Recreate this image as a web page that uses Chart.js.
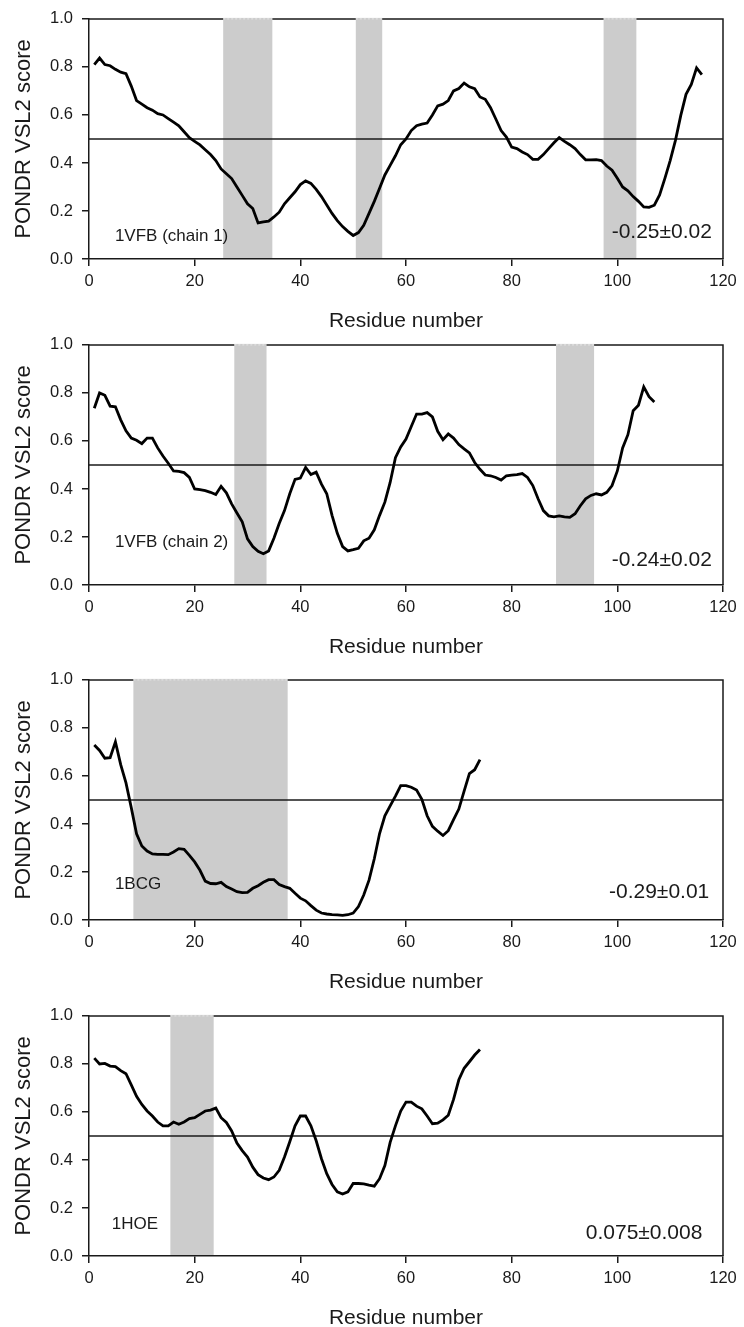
<!DOCTYPE html>
<html><head><meta charset="utf-8">
<script src="https://cdn.jsdelivr.net/npm/chart.js@4.4.1/dist/chart.umd.min.js"></script>
<style>
html,body{margin:0;padding:0;background:#fff;overflow:hidden;width:744px;height:1327px;position:relative;}
canvas{position:absolute;left:0;}
</style></head><body>
<canvas id="c0" width="744" height="334" style="top:0px"></canvas>
<canvas id="c1" width="744" height="334" style="top:326px"></canvas>
<canvas id="c2" width="744" height="334" style="top:661px"></canvas>
<canvas id="c3" width="744" height="334" style="top:997px"></canvas>
<script>
// ---- data ----
const panelNames = ["1VFB (chain 1)", "1VFB (chain 2)", "1BCG", "1HOE"];
const panelScores = ["-0.25\u00B10.02", "-0.24\u00B10.02", "-0.29\u00B10.01", "0.075\u00B10.008"];
const xTickValues = [0, 20, 40, 60, 80, 100, 120];
const yTickValues = [0.0, 0.2, 0.4, 0.6, 0.8, 1.0];
const threshold = 0.5;

// PONDR VSL2 scores, residue 1..N
const vfb1 = [0.81,0.837,0.81,0.805,0.79,0.778,0.772,0.72,0.66,0.645,
  0.63,0.62,0.605,0.60,0.585,0.57,0.555,0.53,0.505,0.49,
  0.475,0.455,0.435,0.41,0.375,0.355,0.335,0.30,0.265,0.23,
  0.21,0.15,0.155,0.158,0.175,0.195,0.23,0.255,0.28,0.31,
  0.325,0.315,0.29,0.26,0.225,0.19,0.16,0.135,0.115,0.098,
  0.11,0.14,0.19,0.24,0.295,0.35,0.39,0.43,0.476,0.50,
  0.535,0.555,0.562,0.566,0.60,0.638,0.645,0.66,0.70,0.71,
  0.733,0.717,0.709,0.675,0.665,0.63,0.583,0.535,0.508,0.466,
  0.46,0.446,0.435,0.415,0.415,0.435,0.46,0.484,0.506,0.49,
  0.476,0.46,0.435,0.413,0.413,0.414,0.41,0.387,0.37,0.336,
  0.30,0.284,0.26,0.24,0.217,0.215,0.224,0.267,0.336,0.41,
  0.494,0.597,0.686,0.727,0.796,0.768];
const vfb2 = [0.736,0.80,0.79,0.745,0.742,0.688,0.642,0.612,0.603,0.589,
  0.612,0.612,0.571,0.537,0.507,0.475,0.473,0.468,0.448,0.40,
  0.397,0.393,0.386,0.377,0.411,0.384,0.338,0.30,0.263,0.192,
  0.16,0.14,0.13,0.142,0.195,0.256,0.31,0.38,0.44,0.445,
  0.49,0.46,0.47,0.42,0.38,0.29,0.215,0.16,0.142,0.147,
  0.153,0.184,0.195,0.23,0.29,0.345,0.427,0.53,0.575,0.608,
  0.66,0.712,0.712,0.718,0.70,0.64,0.605,0.629,0.612,0.585,
  0.567,0.55,0.51,0.482,0.458,0.455,0.448,0.437,0.455,0.458,
  0.46,0.464,0.448,0.414,0.359,0.31,0.288,0.284,0.288,0.284,
  0.282,0.297,0.33,0.359,0.373,0.38,0.375,0.386,0.414,0.475,
  0.571,0.626,0.726,0.749,0.825,0.784,0.762];
const bcg = [0.729,0.706,0.674,0.676,0.742,0.647,0.571,0.468,0.359,0.308,
  0.287,0.275,0.273,0.273,0.272,0.283,0.297,0.294,0.269,0.242,
  0.207,0.162,0.152,0.151,0.157,0.139,0.129,0.118,0.114,0.115,
  0.132,0.143,0.157,0.168,0.168,0.148,0.139,0.132,0.111,0.091,
  0.080,0.06,0.041,0.029,0.025,0.022,0.021,0.019,0.022,0.029,
  0.056,0.104,0.166,0.255,0.36,0.434,0.475,0.516,0.56,0.56,
  0.553,0.541,0.503,0.434,0.39,0.37,0.352,0.372,0.418,0.462,
  0.537,0.61,0.626,0.668];
const hoe = [0.824,0.80,0.802,0.791,0.789,0.772,0.759,0.713,0.665,0.631,
  0.604,0.583,0.558,0.542,0.542,0.558,0.549,0.558,0.572,0.576,
  0.59,0.604,0.608,0.616,0.576,0.556,0.521,0.47,0.439,0.412,
  0.37,0.339,0.325,0.318,0.329,0.357,0.412,0.476,0.542,0.583,
  0.583,0.542,0.48,0.405,0.343,0.298,0.267,0.258,0.267,0.302,
  0.302,0.30,0.295,0.291,0.322,0.377,0.473,0.542,0.604,0.641,
  0.641,0.624,0.613,0.583,0.551,0.553,0.567,0.586,0.652,0.734,
  0.782,0.809,0.837,0.86];

// shaded residue ranges
const shades1 = [[25.4, 34.7], [50.5, 55.5], [97.4, 103.6]];
const shades2 = [[27.5, 33.6], [88.4, 95.6]];
const shades3 = [[8.4, 37.6]];
const shades4 = [[15.4, 23.6]];

const panelSeries = [vfb1, vfb2, bcg, hoe];
const panelShades = [shades1, shades2, shades3, shades4];

// ---- layout / style (not data) ----
const namePos = [[4.9, 0.095], [4.9, 0.177], [4.9, 0.148], [4.3, 0.132]];
const scorePos = [[117.9, 0.111], [117.9, 0.103], [117.4, 0.115], [116.1, 0.095]];
const FONT = "'Liberation Sans', Arial, sans-serif";
const INK = '#1a1a1a';

const decor = {
  id: 'decor',
  beforeDatasetsDraw(chart, args, o) {
    const {ctx, chartArea: a, scales: {x}} = chart;
    ctx.save();
    ctx.strokeStyle = INK; ctx.lineWidth = 1.5;
    ctx.beginPath();
    ctx.moveTo(a.left, a.top); ctx.lineTo(a.right, a.top); ctx.lineTo(a.right, a.bottom);
    ctx.stroke();
    ctx.fillStyle = '#cccccc';
    o.shades.forEach(([s, e]) => {
      const x0 = x.getPixelForValue(s), x1 = x.getPixelForValue(e);
      ctx.fillRect(x0, a.top - 1, x1 - x0, a.bottom - a.top);
    });
    ctx.strokeStyle = '#e6e6e6'; ctx.lineWidth = 1; ctx.setLineDash([2, 2]);
    o.shades.forEach(([s, e]) => {
      const x0 = x.getPixelForValue(s), x1 = x.getPixelForValue(e);
      ctx.beginPath(); ctx.moveTo(x0, a.top); ctx.lineTo(x1, a.top); ctx.stroke();
    });
    ctx.restore();
  },
  afterDatasetsDraw(chart, args, o) {
    const {ctx, scales: {x, y}} = chart;
    ctx.save();
    ctx.fillStyle = INK;
    ctx.textBaseline = 'middle';
    ctx.font = '17px ' + FONT;
    ctx.textAlign = 'left';
    ctx.fillText(o.name, x.getPixelForValue(o.namePos[0]), y.getPixelForValue(o.namePos[1]));
    ctx.font = '21px ' + FONT;
    ctx.textAlign = 'right';
    ctx.fillText(o.score, x.getPixelForValue(o.scorePos[0]), y.getPixelForValue(o.scorePos[1]));
    ctx.restore();
  }
};

panelSeries.forEach((series, i) => {
  const pts = series.map((v, k) => ({x: k + 1, y: v}));
  new Chart(document.getElementById('c' + i), {
    type: 'line',
    data: {
      datasets: [
        {data: pts, borderColor: '#000', borderWidth: 2.8, pointRadius: 0, tension: 0, fill: false},
        {data: [{x: xTickValues[0], y: threshold}, {x: xTickValues[xTickValues.length - 1], y: threshold}],
         borderColor: INK, borderWidth: 1.5, pointRadius: 0, fill: false}
      ]
    },
    options: {
      responsive: false, animation: false, devicePixelRatio: 1,
      layout: {padding: {left: 0, right: 21, top: 15, bottom: 0}},
      plugins: {
        legend: {display: false}, tooltip: {enabled: false},
        decor: {shades: panelShades[i], name: panelNames[i], score: panelScores[i],
                namePos: namePos[i], scorePos: scorePos[i]}
      },
      scales: {
        x: {
          type: 'linear', min: xTickValues[0], max: xTickValues[xTickValues.length - 1],
          afterBuildTicks: s => { s.ticks = xTickValues.map(v => ({value: v})); },
          afterFit: s => { s.height = 75; },
          grid: {drawOnChartArea: false, drawTicks: true, tickLength: 7, color: INK, lineWidth: 1.5},
          border: {display: true, color: INK, width: 1.5},
          ticks: {font: {family: FONT, size: 16.5}, color: INK, padding: 6, maxRotation: 0},
          title: {display: true, text: 'Residue number', font: {family: FONT, size: 21}, color: INK, padding: {top: 0, bottom: 0}}
        },
        y: {
          min: yTickValues[0], max: yTickValues[yTickValues.length - 1],
          afterBuildTicks: s => { s.ticks = yTickValues.map(v => ({value: v})); },
          afterFit: s => { s.width = 89; },
          grid: {drawOnChartArea: false, drawTicks: true, tickLength: 7, color: INK, lineWidth: 1.5},
          border: {display: true, color: INK, width: 1.5},
          ticks: {font: {family: FONT, size: 16.5}, color: INK, padding: 9, callback: v => v.toFixed(1)},
          title: {display: true, text: 'PONDR VSL2 score', font: {family: FONT, size: 22}, color: INK, padding: {top: 11, bottom: 0}}
        }
      }
    },
    plugins: [decor]
  });
});
</script>
</body></html>
